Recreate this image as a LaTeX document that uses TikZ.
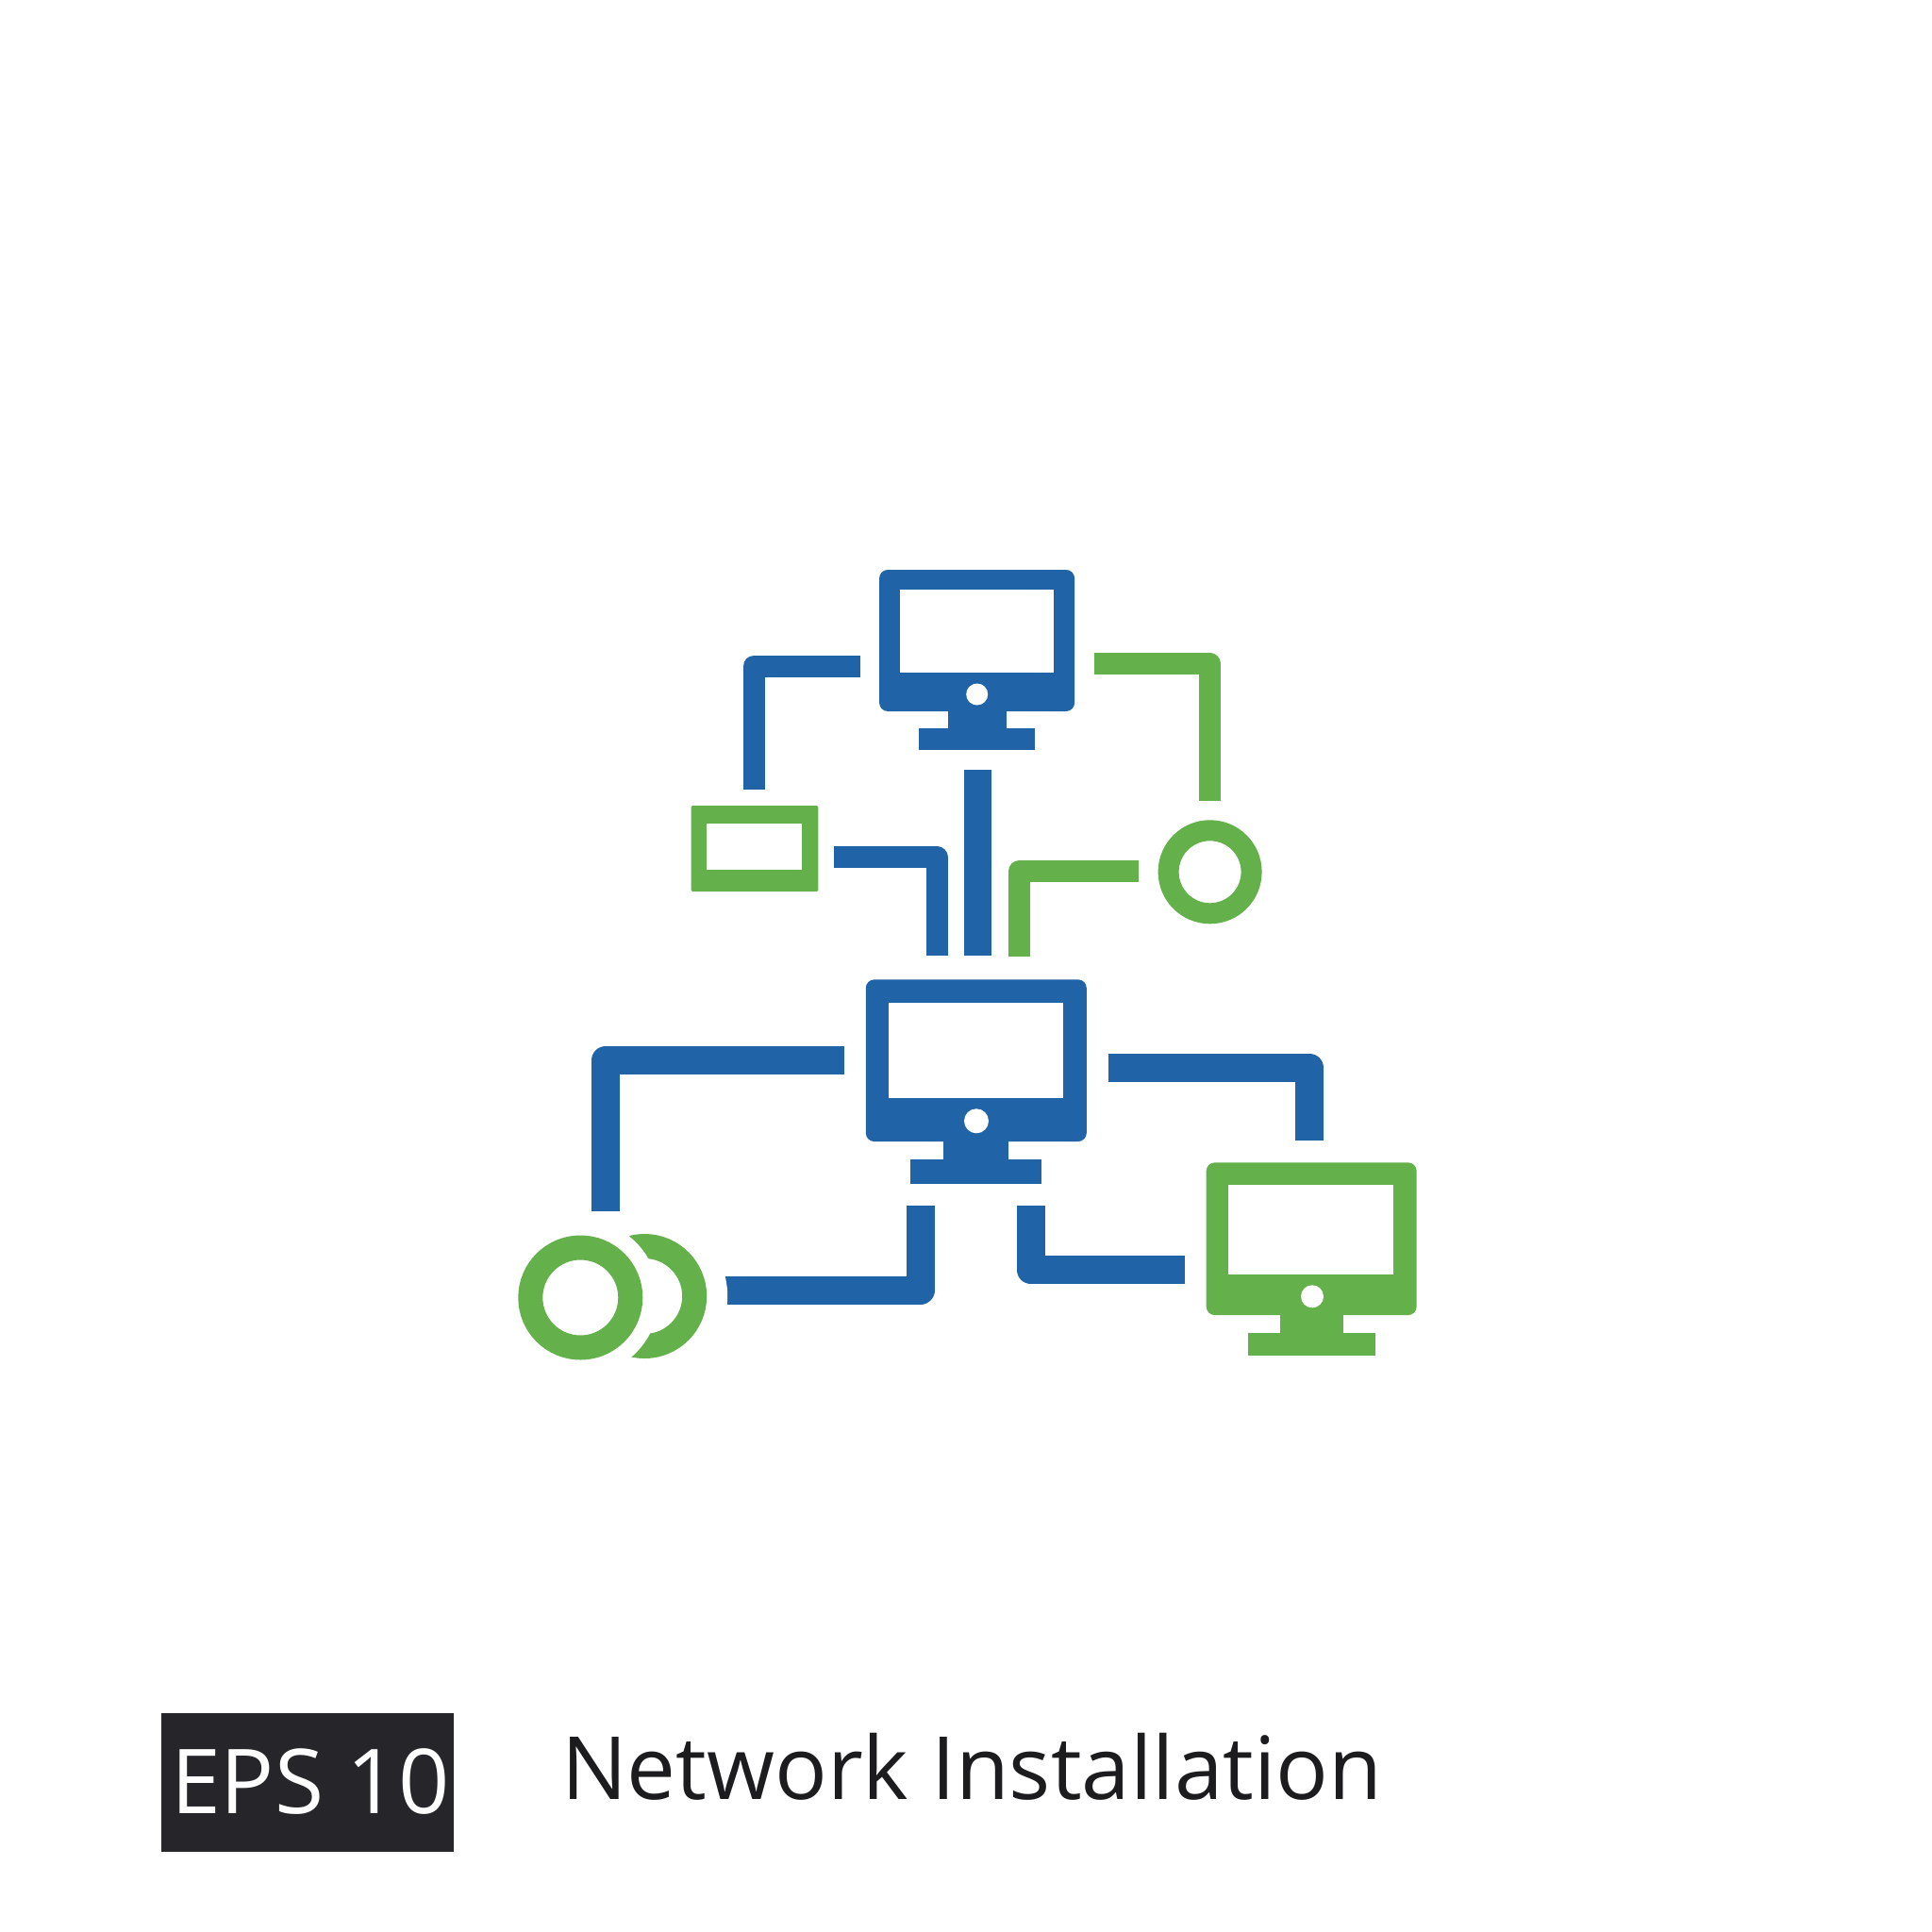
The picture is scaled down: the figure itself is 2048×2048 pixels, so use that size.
\documentclass[tikz,border=0pt]{standalone}
\usepackage{fontspec}
\setmainfont{Open Sans}
\usetikzlibrary{positioning}
\definecolor{netBlue}{HTML}{2163A7}
\definecolor{netGreen}{HTML}{64B04A}
\definecolor{labelDark}{HTML}{26262A}
\definecolor{titleDark}{HTML}{1C1C1E}

\begin{document}
\begin{tikzpicture}[x=1pt,y=-1pt,node distance=0pt]
    \tikzstyle{part}=[rectangle,inner sep=0pt,outer sep=0pt]
    \tikzstyle{frame}=[part,rounded corners=9pt]
    \tikzstyle{screen}=[part,fill=white]
    \tikzstyle{hole}=[circle,inner sep=0pt,outer sep=0pt,fill=white]
    \tikzstyle{ring}=[circle,inner sep=0pt,outer sep=0pt,draw=netGreen]
    \tikzstyle{gap}=[circle,inner sep=0pt,outer sep=0pt,fill=white]
    \tikzstyle{wire}=[line cap=butt,line join=round,line width=23pt]
    \tikzstyle{thickwire}=[wire,line width=30pt]
    \useasboundingbox (0,0) rectangle (2048,2048);

    % top monitor
    \node[frame,fill=netBlue,minimum width=207pt,minimum height=150pt] (topFrame) at (1035.6,679) {};
    \node[screen,minimum width=163pt,minimum height=88pt] (topScreen) at (1035.4,669) {};
    \node[hole,minimum size=23pt] (topHole) at (1035.7,736) {};
    \node[part,fill=netBlue,minimum width=62pt,minimum height=18pt,below=of topFrame] (topNeck) {};
    \node[part,fill=netBlue,minimum width=123.4pt,minimum height=23pt,below=of topNeck] (topBase) {};

    % middle monitor
    \node[frame,fill=netBlue,minimum width=234pt,minimum height=171.7pt] (midFrame) at (1034.8,1124.2) {};
    \node[screen,minimum width=184.6pt,minimum height=101.3pt] (midScreen) at (1034.5,1113.7) {};
    \node[hole,minimum size=26pt] (midHole) at (1035,1188.3) {};
    \node[part,fill=netBlue,minimum width=69pt,minimum height=19pt,below=of midFrame] (midNeck) {};
    \node[part,fill=netBlue,minimum width=139pt,minimum height=26pt,below=of midNeck] (midBase) {};

    % green monitor
    \node[frame,fill=netGreen,minimum width=223pt,minimum height=161.7pt] (sideFrame) at (1390.2,1313.2) {};
    \node[screen,minimum width=175pt,minimum height=95pt] (sideScreen) at (1389.9,1303.5) {};
    \node[hole,minimum size=24pt] (sideHole) at (1391,1374.3) {};
    \node[part,fill=netGreen,minimum width=66.6pt,minimum height=18.7pt,below=of sideFrame] (sideNeck) {};
    \node[part,fill=netGreen,minimum width=134.6pt,minimum height=24.6pt,below=of sideNeck] (sideBase) {};

    % small green box and small ring
    \node[part,rounded corners=2pt,fill=netGreen,minimum width=134.7pt,minimum height=91pt] (boxFrame) at (800,899.5) {};
    \node[screen,minimum width=100.7pt,minimum height=49pt] (boxScreen) at (799.6,897.5) {};
    \node[ring,line width=22pt,minimum size=88pt] (smallRing) at (1282.6,924.3) {};

    % connector ends
    \coordinate (topLeftA) at (911.9,706);    \coordinate (topLeftB) at (799.2,836.7);
    \coordinate (topRightA) at (1160.3,703);  \coordinate (topRightB) at (1282,848.7);
    \coordinate (trunkA) at (1036.5,816.3);   \coordinate (trunkB) at (1036.5,1013.3);
    \coordinate (boxLinkA) at (884.4,908.7);  \coordinate (boxLinkB) at (993.1,1013.3);
    \coordinate (ringLinkA) at (1207.4,923.7); \coordinate (ringLinkB) at (1080.5,1014.3);
    \coordinate (farLeftA) at (894.7,1124);   \coordinate (farLeftB) at (642,1284.3);
    \coordinate (farRightA) at (1174.9,1131.8); \coordinate (farRightB) at (1388,1209.3);
    \coordinate (lowLeftA) at (975.5,1278.3); \coordinate (lowLeftB) at (740,1367.7);
    \coordinate (lowRightA) at (1092.8,1278.3); \coordinate (lowRightB) at (1256.3,1346.3);

    \draw[wire,netBlue] (topLeftA) -| (topLeftB);
    \draw[wire,netGreen] (topRightA) -| (topRightB);
    \draw[wire,netBlue,line width=29.7pt] (trunkA) -- (trunkB);
    \draw[wire,netBlue] (boxLinkA) -| (boxLinkB);
    \draw[wire,netGreen] (ringLinkA) -| (ringLinkB);
    \draw[thickwire,netBlue] (farLeftA) -| (farLeftB);
    \draw[thickwire,netBlue] (farRightA) -| (farRightB);
    \draw[thickwire,netBlue] (lowLeftA) |- (lowLeftB);
    \draw[thickwire,netBlue] (lowRightA) |- (lowRightB);

    % double ring, each white disc cuts the shape under it
    \node[gap,minimum size=176pt] (backGap) at (683.2,1374) {};
    \node[ring,line width=26pt,minimum size=106pt] (backRing) at (683.2,1374) {};
    \node[gap,minimum size=166pt] (frontGap) at (615.3,1375.5) {};
    \node[ring,line width=26pt,minimum size=106pt] (frontRing) at (615.3,1375.5) {};

    % caption
    \node[part,fill=labelDark,minimum width=310.3pt,minimum height=147pt] (epsBox) at (325.7,1889.2) {};
    \node[part,anchor=base west,text=white,font=\fontsize{95}{95}\selectfont] (epsText) at (181,1922.3) {EPS 10};
    \node[part,anchor=base west,text=titleDark,font=\fontsize{92.5}{92.5}\selectfont] (titleText) at (595,1907.3) {Network Installation};
\end{tikzpicture}
\end{document}
